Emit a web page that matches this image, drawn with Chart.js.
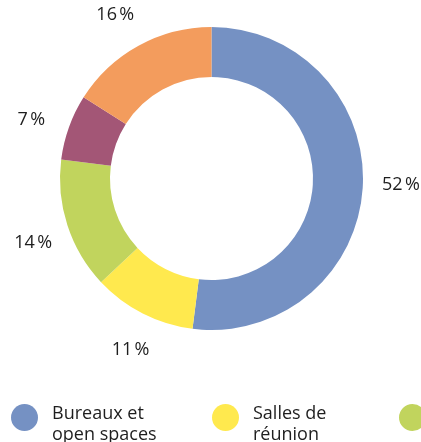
<!DOCTYPE html>
<html>
<head>
<meta charset="utf-8">
<script src="https://cdn.jsdelivr.net/npm/chart.js@4"></script>
<style>
  html, body { margin: 0; padding: 0; background: #fff; overflow: hidden; }
  #wrap { width: 421px; height: 442px; }
</style>
</head>
<body>
<div id="wrap"><canvas id="chart" width="421" height="442"></canvas></div>
<script>
const categories = ['Bureaux et open spaces', 'Salles de réunion', 'Espaces de convivialité', 'Espaces de services', 'Circulations'];
const shares = [52, 11, 14, 7, 16];
const colors = ['#7591c3', '#ffe94e', '#c1d45d', '#a35676', '#f39c5d'];

const textColor = '#1e1e1e';
const fontFamily = '"Open Sans", "Noto Sans", sans-serif';

// percentage labels around the ring
const outsideLabels = {
    id: 'outsideLabels',
    afterDatasetsDraw(chart) {
        const ctx = chart.ctx;
        const meta = chart.getDatasetMeta(0);
        ctx.save();
        ctx.fillStyle = textColor;
        ctx.font = '18px ' + fontFamily;
        ctx.textAlign = 'center';
        ctx.textBaseline = 'middle';
        meta.data.forEach(function(arc, i) {
            const p = arc.getProps(['x', 'y', 'startAngle', 'endAngle', 'outerRadius'], true);
            const mid = (p.startAngle + p.endAngle) / 2 - 0.03;
            const r = p.outerRadius + 38;
            ctx.fillText(shares[i] + '\u202F%', p.x + Math.cos(mid) * r, p.y + Math.sin(mid) * r);
        });
        ctx.restore();
    }
};

// legend row at the bottom, drawn with wrapped labels
const bottomLegend = {
    id: 'bottomLegend',
    afterDraw(chart) {
        const ctx = chart.ctx;
        const columns = [11, 212, 399, 600, 800];
        const top = 404;
        ctx.save();
        ctx.font = '18px ' + fontFamily;
        ctx.textBaseline = 'alphabetic';
        categories.forEach(function(label, i) {
            const x = columns[i];
            ctx.fillStyle = colors[i];
            ctx.beginPath();
            ctx.arc(x + 13.5, top + 13.5, 13.5, 0, Math.PI * 2);
            ctx.fill();

            const words = label.split(' ');
            const lines = [];
            let line = '';
            words.forEach(function(w) {
                const test = line ? line + ' ' + w : w;
                if (ctx.measureText(test).width > 130 && line) {
                    lines.push(line);
                    line = w;
                } else {
                    line = test;
                }
            });
            lines.push(line);
            ctx.fillStyle = textColor;
            lines.forEach(function(l, j) {
                ctx.fillText(l, x + 41, top + 15 + j * 21);
            });
        });
        ctx.restore();
    }
};

new Chart(document.getElementById('chart'), {
    type: 'doughnut',
    data: {
        labels: categories,
        datasets: [{
            data: shares,
            backgroundColor: colors,
            borderWidth: 0,
            hoverOffset: 0
        }]
    },
    options: {
        responsive: false,
        animation: false,
        cutout: '67%',
        layout: {
            padding: { left: 60, top: 27, right: 58, bottom: 112 }
        },
        plugins: {
            legend: { display: false },
            tooltip: { enabled: false }
        }
    },
    plugins: [outsideLabels, bottomLegend]
});
</script>
</body>
</html>
